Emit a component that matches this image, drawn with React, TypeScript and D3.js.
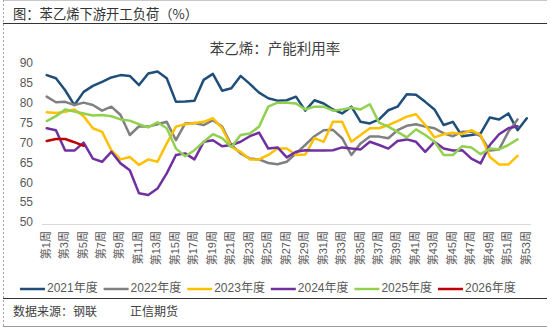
import React from "react";
import * as d3 from "d3";

const yTicks = [50, 55, 60, 65, 70, 75, 80, 85, 90];
const weekLabels = d3.range(1, 54, 2).map((w) => `第${w}周`);
const seriesNames = ["2021年度", "2022年度", "2023年度", "2024年度", "2025年度", "2026年度"];
const seriesColors = ["#1F4E79", "#808080", "#FFC000", "#7030A0", "#92D050", "#C00000"];

const d2021 = [87.1, 86.3, 83.3, 79.6, 82.9, 84.4, 85.4, 86.5, 87.1, 86.9, 84.6, 87.5, 88.0, 86.3, 80.4, 80.5, 80.7, 85.9, 87.4, 83.2, 83.8, 86.9, 84.9, 82.7, 81.3, 80.7, 80.8, 81.7, 78.2, 80.8, 80.0, 78.5, 77.5, 79.2, 75.4, 75.0, 76.0, 78.3, 79.2, 82.3, 82.2, 80.4, 78.5, 74.6, 75.4, 71.8, 72.1, 72.5, 76.5, 76.0, 77.5, 73.3, 76.3];
const d2022 = [81.7, 80.3, 80.4, 79.6, 80.2, 79.6, 78.2, 79.2, 77.1, 72.1, 74.3, 74.2, 74.8, 75.4, 70.8, 75.0, 75.1, 74.6, 75.8, 74.2, 69.6, 67.5, 66.2, 66.0, 65.1, 64.8, 65.4, 67.5, 69.6, 71.8, 73.3, 73.4, 71.3, 67.1, 70.0, 71.7, 71.7, 71.3, 73.3, 74.4, 74.8, 74.2, 73.8, 72.5, 71.8, 72.9, 72.9, 71.8, 68.2, 68.5, 72.9, 76.0];
const d2023 = [77.8, 77.6, 77.9, 78.5, 76.8, 73.8, 72.9, 68.3, 66.0, 66.6, 64.6, 66.0, 65.4, 70.0, 74.2, 74.8, 75.1, 75.4, 76.3, 73.8, 69.1, 67.9, 66.0, 66.0, 67.1, 68.7, 68.7, 67.1, 67.2, 71.3, 70.4, 75.4, 75.4, 70.4, 72.1, 73.8, 73.8, 74.6, 75.6, 76.7, 77.3, 74.6, 71.5, 72.3, 72.7, 72.3, 73.3, 72.1, 66.6, 64.7, 64.7, 66.9];
const d2024 = [73.8, 73.3, 68.2, 68.2, 70.2, 66.2, 65.4, 67.9, 65.0, 63.3, 57.5, 57.1, 58.7, 62.5, 67.1, 67.5, 66.0, 70.4, 70.8, 69.3, 69.6, 70.4, 71.8, 72.7, 68.7, 69.0, 66.5, 67.9, 68.3, 68.2, 68.2, 68.3, 69.0, 68.7, 68.5, 70.4, 69.6, 68.7, 70.6, 71.0, 70.4, 67.9, 70.4, 68.7, 68.2, 68.3, 66.2, 65.0, 69.6, 72.3, 73.8, 74.3];
const d2025 = [75.6, 76.8, 78.5, 78.0, 77.5, 77.0, 77.1, 76.8, 76.0, 75.7, 74.8, 74.0, 75.3, 73.8, 68.7, 66.8, 68.3, 70.4, 72.3, 71.3, 69.1, 72.1, 72.5, 74.2, 79.2, 80.2, 80.2, 80.0, 78.5, 79.2, 79.2, 78.2, 78.5, 78.9, 78.5, 79.8, 75.2, 74.2, 72.9, 71.5, 73.5, 72.1, 70.4, 67.1, 67.1, 69.3, 69.0, 67.3, 68.7, 68.5, 69.6, 71.0];
const d2026 = [70.6, 71.1, 71.1, 70.3, 69.4];

const allSeries = [d2021, d2022, d2023, d2024, d2025, d2026];

const W = 550;
const H = 330;
const numFont = "'Liberation Sans', Arial, 'Noto Sans CJK SC', sans-serif";
const cjkFont = "'Noto Sans CJK SC', sans-serif";

export default function App() {
  const x = d3.scaleLinear().domain([1, 53]).range([46.7, 526.8]);
  const y = d3.scaleLinear().domain([50, 90]).range([223.3, 63.5]);
  const line = d3
    .line<number>()
    .x((_, i) => x(i + 1))
    .y((d) => y(d));

  const legendX0 = 20;
  const legendStep = 83.6;

  return (
    <div style={{ position: "absolute", left: 0, top: 0 }}>
      <svg width={W} height={H} viewBox={`0 0 ${W} ${H}`} style={{ display: "block", background: "#fff" }}>
        {/* frame */}
        <line x1={3} x2={547} y1={0.5} y2={0.5} stroke="#c8c8c8" strokeWidth={1} />
        <line x1={3.5} x2={3.5} y1={0} y2={327} stroke="#a6a6a6" strokeWidth={1} strokeDasharray="2,2" />
        <line x1={3} x2={547} y1={23.5} y2={23.5} stroke="#333" strokeWidth={1} />
        <line x1={3} x2={547} y1={298.5} y2={298.5} stroke="#333" strokeWidth={1} />
        <line x1={3} x2={547} y1={326.5} y2={326.5} stroke="#9a9a9a" strokeWidth={1} />

        <text x={13} y={19} fontFamily={cjkFont} fontSize={13.3} fill="#333">
          图：苯乙烯下游开工负荷（%）
        </text>

        <text x={275} y={50} textAnchor="middle" dominantBaseline="middle" fontFamily={cjkFont} fontSize={14.5} fill="#404040">
          苯乙烯：产能利用率
        </text>

        {/* y labels */}
        {yTicks.map((t) => (
          <text key={t} x={33} y={y(t)} textAnchor="end" dominantBaseline="middle" fontFamily={numFont} fontSize={12} fill="#595959">
            {t}
          </text>
        ))}

        {/* x axis */}
        <line x1={42} x2={531} y1={224.5} y2={224.5} stroke="#d9d9d9" strokeWidth={1} />
        {weekLabels.map((lab, i) => {
          const w = 1 + i * 2;
          return (
            <text
              key={lab}
              transform={`translate(${x(w)},${231}) rotate(-90)`}
              textAnchor="end"
              dominantBaseline="middle"
              fontFamily={numFont}
              fontSize={11}
              fill="#595959"
            >
              {lab}
            </text>
          );
        })}

        {/* lines */}
        {allSeries.map((s, i) => (
          <path
            key={seriesNames[i]}
            d={line(s) || ""}
            fill="none"
            stroke={seriesColors[i]}
            strokeWidth={2.5}
            strokeLinejoin="round"
            strokeLinecap="round"
          />
        ))}

        {/* legend */}
        {seriesNames.map((n, i) => {
          const lx = legendX0 + i * legendStep;
          return (
            <g key={n}>
              <line x1={lx} x2={lx + 25} y1={289} y2={289} stroke={seriesColors[i]} strokeWidth={2.5} />
              <text x={lx + 27} y={289} dominantBaseline="middle" fontFamily={numFont} fontSize={12} fill="#595959">
                {n}
              </text>
            </g>
          );
        })}

        <text x={13} y={313} dominantBaseline="middle" fontFamily={cjkFont} fontSize={12} fill="#404040">
          数据来源：钢联
        </text>
        <text x={130} y={313} dominantBaseline="middle" fontFamily={cjkFont} fontSize={12} fill="#404040">
          正信期货
        </text>
      </svg>
    </div>
  );
}
